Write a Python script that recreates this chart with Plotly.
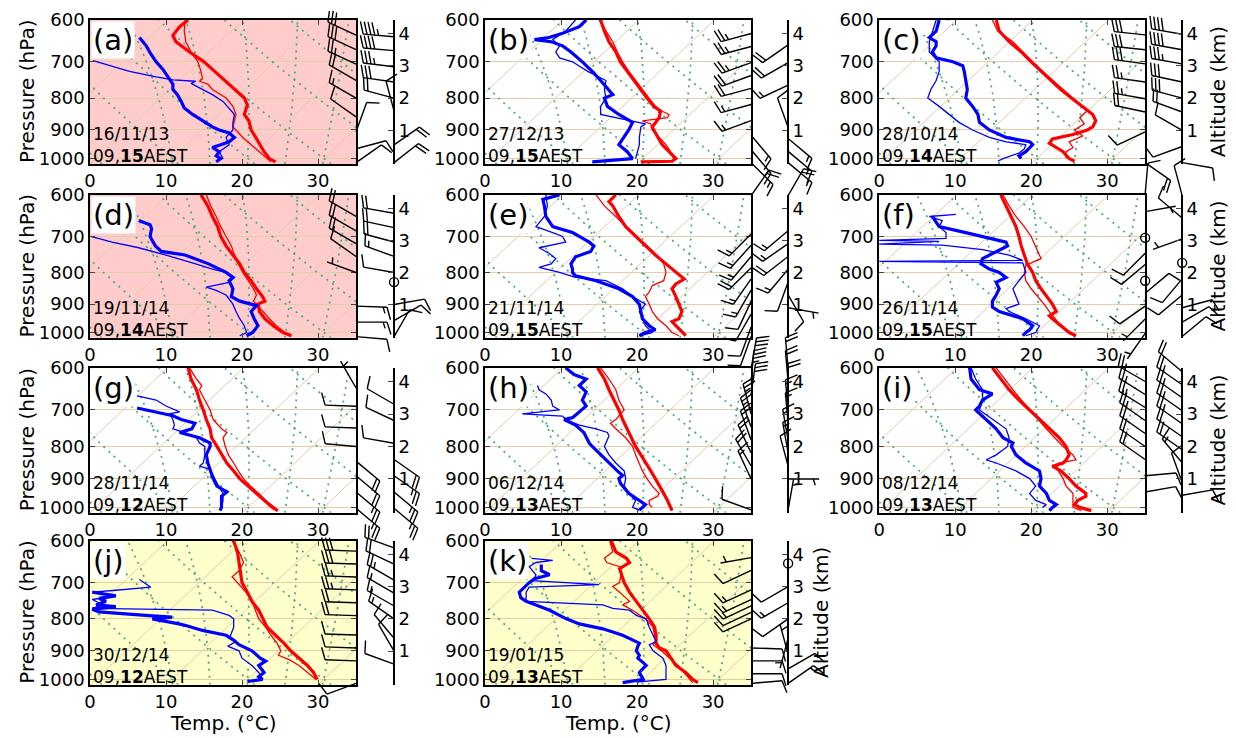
import numpy as np
import plotly.graph_objects as go

# ======================= DATA =======================
LABELS = ["(a)", "(b)", "(c)", "(d)", "(e)", "(f)", "(g)", "(h)", "(i)", "(j)", "(k)"]
DATES = ["16/11/13", "27/12/13", "28/10/14", "19/11/14", "21/11/14", "26/11/14",
         "28/11/14", "06/12/14", "08/12/14", "30/12/14", "19/01/15"]
HOURS = ["15", "15", "14", "14", "15", "15", "12", "13", "13", "12", "13"]
P_TICKS = [600, 700, 800, 900, 1000]
T_TICKS = [0, 10, 20, 30]
ALT_TICKS = [1, 2, 3, 4]

A_RED_THICK = [(600,12.9),(615,11.8),(635,10.9),(650,11.3),(675,13.1),(700,15.0),(725,16.4),(750,17.7),(775,19.0),(800,20.3),(820,20.7),(840,20.5),(850,20.3),(870,20.9),(900,21.2),(925,21.8),(950,22.3),(975,22.9),(1000,23.6),(1012,24.4)]
A_RED_THIN = [(600,12.5),(625,12.4),(650,12.6),(675,13.3),(700,14.2),(725,14.6),(745,14.8),(752,14.4),(760,15.5),(775,16.1),(800,17.9),(825,18.8),(850,19.2),(870,19.0),(890,18.8),(900,19.2),(925,20.1),(950,21.2),(975,22.3),(1000,23.4),(1012,23.8)]
A_BLUE_THICK = [(640,6.5),(660,7.4),(680,8.0),(700,8.7),(720,9.6),(740,10.2),(760,10.9),(775,10.9),(790,11.5),(810,12.0),(830,12.4),(850,13.5),(870,14.8),(890,16.1),(900,17.0),(910,18.3),(925,19.0),(940,18.3),(950,17.2),(960,16.1),(975,17.0),(990,16.6),(1000,17.2),(1012,16.6)]
A_BLUE_THIN = [(697,0.4),(710,2.5),(725,5.2),(740,8.7),(748,10.9),(752,13.9),(758,13.3),(765,13.9),(775,14.8),(790,16.1),(810,17.5),(830,18.3),(850,19.0),(875,18.8),(900,18.8),(925,17.9),(950,18.3),(975,17.0),(1000,17.5)]

B_RED_THICK = [(600,15.2),(625,15.7),(650,16.3),(675,17.2),(700,17.8),(725,18.7),(750,19.6),(775,20.5),(800,21.3),(825,22.2),(840,23.1),(860,22.9),(875,22.4),(890,22.0),(900,22.2),(925,22.7),(950,23.3),(975,24.2),(1000,25.1),(1010,24.6),(1012,20.5)]
B_RED_THIN = [(600,15.0),(625,15.9),(650,16.8),(675,17.4),(700,18.1),(725,18.9),(750,19.8),(775,20.7),(800,21.6),(825,22.4),(840,23.3),(850,24.2),(860,24.0),(870,20.7),(880,21.8),(900,22.0),(925,22.9),(950,23.8),(975,24.4),(1000,24.8)]
B_BLUE_THICK = [(600,13.3),(615,12.4),(630,10.2),(640,8.4),(645,6.5),(650,8.7),(660,10.2),(675,11.3),(700,12.8),(725,14.1),(750,15.2),(775,16.3),(790,16.8),(800,15.7),(825,16.1),(850,17.6),(875,19.4),(900,18.9),(925,18.3),(950,17.6),(975,18.7),(1000,19.4),(1012,14.1)]
B_BLUE_THIN = [(600,11.9),(625,10.6),(645,8.9),(660,9.8),(675,9.3),(690,9.8),(700,11.5),(725,13.5),(750,15.9),(775,15.7),(800,15.9),(825,15.2),(850,15.2),(870,19.4),(880,21.1),(890,20.5),(925,20.3),(950,20.3),(975,20.0),(1000,19.8)]

C_RED_THICK = [(600,15.4),(625,15.8),(650,17.1),(675,18.7),(700,20.0),(725,21.3),(750,22.6),(775,23.9),(800,25.3),(825,26.8),(850,28.1),(870,28.5),(890,28.1),(900,27.4),(915,25.5),(930,22.8),(945,22.4),(960,23.3),(975,24.2),(1000,25.0),(1010,25.7)]
C_RED_THIN = [(600,14.9),(625,15.6),(650,17.6),(675,18.9),(700,20.2),(725,21.5),(750,22.8),(775,24.2),(800,25.5),(825,26.8),(840,27.3),(860,26.4),(880,27.0),(900,25.7),(920,26.8),(940,25.0),(960,25.5),(975,24.6),(1000,24.6)]
C_BLUE_THICK = [(600,7.9),(625,7.5),(640,6.6),(650,7.5),(660,7.5),(675,7.0),(690,7.5),(700,9.7),(710,11.0),(725,11.2),(750,11.4),(775,11.6),(800,11.4),(825,12.3),(850,13.0),(875,13.2),(900,14.5),(925,16.7),(940,19.8),(950,20.2),(975,19.3),(990,18.4),(1000,18.7)]
C_BLUE_THIN = [(600,7.5),(625,7.0),(650,6.6),(675,6.6),(700,7.9),(725,7.9),(750,7.5),(775,6.8),(800,6.4),(825,7.9),(850,9.2),(875,10.5),(900,12.3),(925,14.5),(940,16.7),(950,19.3),(965,19.1),(980,18.4),(1000,16.3),(1010,15.6)]

D_RED_THICK = [(600,14.6),(625,15.5),(650,16.1),(675,16.8),(700,17.2),(725,17.9),(750,18.8),(775,19.7),(800,20.3),(825,21.2),(850,21.9),(875,22.7),(890,23.0),(900,22.1),(925,22.3),(950,23.0),(975,24.1),(1000,25.4),(1012,26.5)]
D_RED_THIN = [(600,15.3),(625,15.9),(650,16.6),(675,17.2),(700,17.9),(725,18.6),(750,19.0),(775,19.5),(800,20.1),(825,20.8),(850,21.5),(870,21.9),(890,21.5),(900,21.9),(925,22.7),(950,23.6),(975,24.5),(1000,25.6),(1012,26.2)]
D_BLUE_THICK = [(660,6.4),(670,7.9),(680,8.1),(700,7.9),(725,8.6),(740,9.4),(750,12.5),(775,15.6),(800,17.9),(815,18.8),(825,18.3),(850,18.8),(875,18.6),(890,19.7),(905,21.9),(925,21.2),(950,21.6),(975,22.1),(1000,21.4),(1012,20.6)]
D_BLUE_THIN = [(700,0.1),(715,2.9),(730,6.4),(750,10.0),(775,13.9),(790,16.1),(800,17.9),(815,19.0),(830,18.3),(845,15.3),(855,16.6),(870,17.9),(900,18.8),(925,19.2),(950,19.7),(975,20.3),(1000,20.6),(1012,19.7)]

E_RED_THICK = [(600,17.2),(615,16.3),(625,16.8),(650,17.6),(675,18.5),(700,19.8),(725,21.1),(750,22.4),(775,23.8),(800,25.1),(820,26.2),(835,25.1),(850,24.6),(875,25.1),(900,25.5),(925,25.9),(950,25.5),(960,24.6),(975,25.1),(1000,25.9),(1012,26.4)]
E_RED_THIN = [(600,14.6),(625,15.7),(650,17.2),(675,18.5),(700,20.0),(725,21.3),(750,22.6),(775,23.5),(800,23.8),(825,23.5),(840,22.0),(860,21.6),(875,21.1),(900,21.6),(925,22.0),(950,22.7),(975,23.8),(1000,24.6),(1012,25.5)]
E_BLUE_THICK = [(600,9.8),(610,7.6),(625,7.8),(650,8.0),(675,8.9),(690,11.5),(700,12.4),(715,13.7),(725,14.3),(740,13.9),(755,11.9),(775,11.3),(790,11.5),(800,11.5),(810,11.9),(825,14.6),(850,17.6),(875,19.4),(900,20.3),(925,20.5),(950,20.7),(975,21.6),(990,22.4),(1000,21.1),(1012,20.3)]
E_BLUE_THIN = [(600,8.0),(625,8.2),(650,7.8),(675,6.7),(690,8.9),(700,10.2),(715,10.6),(730,7.1),(745,8.4),(760,9.3),(775,8.7),(785,7.1),(800,9.8),(815,11.9),(825,15.9),(850,18.1),(875,19.4),(900,21.1),(925,20.3),(950,20.7),(975,21.1),(1000,22.0),(1012,20.3)]

F_RED_THICK = [(600,16.0),(625,16.7),(650,17.3),(675,18.0),(700,18.4),(725,18.7),(750,19.1),(775,19.5),(800,20.2),(825,20.6),(850,21.3),(875,22.0),(900,22.8),(925,23.3),(940,22.4),(950,22.8),(975,23.9),(1000,25.0),(1012,25.9)]
F_RED_THIN = [(600,16.3),(625,17.1),(650,18.0),(675,19.1),(700,20.0),(725,20.6),(750,21.1),(760,21.3),(770,20.2),(780,19.3),(800,19.1),(825,19.3),(850,20.0),(875,20.9),(900,21.7),(925,22.4),(950,23.1),(975,23.9),(1000,25.0),(1012,25.7)]
F_BLUE_THICK = [(650,7.0),(675,7.9),(690,11.4),(700,13.6),(715,16.7),(725,16.9),(740,15.4),(760,13.6),(775,13.4),(790,14.5),(800,15.8),(815,16.7),(830,15.4),(850,15.8),(870,15.4),(890,14.9),(910,14.9),(925,15.8),(950,18.9),(975,20.2),(990,19.8),(1000,19.3),(1012,18.9)]
F_BLUE_THIN = [(645,10.1),(650,6.6),(660,8.3),(675,7.9),(690,8.8),(705,8.8),(710,0.0),(713,7.9),(720,0.0),(723,8.3),(735,13.6),(750,17.1),(765,18.9),(768,0.0),(772,18.9),(790,19.1),(800,19.3),(825,18.4),(850,17.6),(875,18.0),(900,18.4),(915,16.7),(925,17.1),(950,19.3),(975,21.1),(1000,20.6),(1012,19.3)]

G_RED_THICK = [(600,12.9),(625,13.3),(650,14.0),(675,14.4),(700,14.9),(725,15.3),(750,15.8),(775,16.0),(800,16.7),(825,17.3),(850,18.0),(875,18.9),(900,19.7),(925,20.8),(950,21.9),(975,23.0),(1000,24.0),(1012,24.7)]
G_RED_THIN = [(600,13.1),(625,14.0),(640,14.7),(650,14.4),(675,15.1),(700,15.8),(725,16.2),(750,17.3),(760,18.0),(775,17.5),(800,17.8),(825,18.2),(850,18.9),(875,19.5),(900,20.2),(925,21.1),(950,22.2),(975,23.1),(1000,24.3),(1012,24.7)]
G_BLUE_THICK = [(695,6.2),(700,7.4),(715,10.9),(725,12.0),(735,13.8),(750,13.4),(760,11.8),(775,14.4),(790,15.8),(800,15.8),(825,15.3),(850,15.5),(875,15.8),(900,16.2),(925,16.7),(945,18.0),(960,17.3),(975,17.3),(1000,17.3),(1012,17.1)]
G_BLUE_THIN = [(665,6.2),(675,8.7),(690,10.0),(705,11.8),(710,10.5),(725,10.9),(740,11.1),(750,10.9),(760,12.4),(775,14.0),(790,14.4),(800,15.1),(825,15.1),(850,14.9),(860,14.4),(870,15.8),(900,16.4),(925,16.9),(950,17.5),(975,17.5),(1000,17.3)]

H_RED_THICK = [(600,14.8),(625,15.7),(650,16.3),(675,17.0),(700,17.6),(725,18.1),(750,18.7),(775,19.2),(800,19.8),(825,20.5),(850,21.1),(875,21.8),(900,22.4),(925,22.9),(950,23.5),(975,24.0),(1000,24.4),(1012,24.6)]
H_RED_THIN = [(600,15.2),(625,16.3),(650,17.2),(675,17.6),(700,18.3),(725,17.2),(735,16.5),(750,17.2),(775,18.5),(800,19.4),(825,19.8),(850,20.3),(875,20.7),(900,21.3),(925,22.0),(950,22.9),(960,22.7),(975,21.6),(990,21.6),(1000,22.0)]
H_BLUE_THICK = [(600,10.6),(615,11.7),(625,13.3),(640,12.4),(655,13.3),(675,12.8),(690,13.3),(705,12.4),(720,11.5),(725,10.4),(740,11.9),(760,13.0),(775,13.3),(790,13.7),(800,14.1),(825,15.2),(850,16.3),(875,17.4),(890,18.1),(900,17.6),(915,17.8),(925,18.1),(950,18.9),(975,20.3),(990,21.1),(1000,20.7),(1010,20.3)]
H_BLUE_THIN = [(640,6.9),(650,7.1),(660,8.0),(675,8.7),(690,8.9),(700,9.8),(710,4.9),(716,10.2),(725,10.6),(740,12.4),(750,14.6),(760,16.1),(770,16.3),(790,15.9),(800,15.7),(825,16.3),(850,17.2),(875,18.3),(900,18.5),(925,18.3),(950,18.9),(975,19.8),(1000,19.4),(1010,20.3)]

I_RED_THICK = [(600,14.9),(625,16.0),(650,17.1),(675,18.4),(700,19.8),(725,21.1),(750,22.4),(775,23.7),(800,24.6),(825,25.0),(840,24.6),(850,24.2),(860,22.8),(875,23.9),(900,25.0),(925,25.9),(950,27.2),(960,27.2),(975,26.1),(990,25.7),(1000,26.4),(1012,27.9)]
I_RED_THIN = [(600,15.4),(625,16.5),(650,17.6),(675,18.7),(700,19.8),(725,20.9),(750,22.0),(775,23.1),(800,24.2),(825,25.5),(840,25.9),(850,23.7),(865,23.3),(880,23.7),(900,24.2),(925,24.6),(950,25.5),(975,25.5),(1000,25.5),(1012,26.6)]
I_BLUE_THICK = [(600,11.9),(625,12.1),(650,13.2),(660,14.9),(675,13.6),(690,13.2),(700,12.7),(725,14.1),(750,15.4),(775,16.3),(790,17.6),(800,17.4),(825,18.0),(850,19.3),(875,21.1),(900,21.3),(925,21.1),(950,22.0),(975,22.4),(990,23.3),(1000,22.8),(1012,22.4)]
I_BLUE_THIN = [(600,12.1),(625,12.7),(650,13.6),(675,13.6),(700,13.2),(725,14.9),(750,16.7),(775,17.1),(800,16.9),(825,15.4),(840,14.1),(850,15.4),(875,18.0),(900,19.8),(925,20.6),(950,19.8),(975,20.6),(990,22.0),(1000,21.5)]

J_RED_THICK = [(600,18.9),(625,19.4),(650,19.6),(675,19.8),(700,20.0),(725,20.7),(750,21.3),(775,22.2),(800,22.7),(825,23.3),(850,24.4),(875,25.5),(900,26.4),(925,27.5),(950,28.6),(975,29.4),(1000,29.9)]
J_RED_THIN = [(600,18.7),(625,19.6),(650,20.2),(670,19.6),(685,18.7),(700,19.4),(725,20.5),(750,21.3),(775,21.8),(800,22.2),(825,23.1),(850,23.8),(875,24.6),(900,25.1),(915,24.8),(930,26.2),(950,27.5),(975,28.6),(1000,29.7)]
J_BLUE_THICK = [(725,0.3),(735,3.4),(742,1.2),(750,2.1),(760,0.8),(765,3.4),(772,0.3),(780,1.2),(790,7.3),(795,10.8),(800,8.2),(805,9.5),(815,11.7),(820,12.6),(835,14.8),(850,17.9),(865,18.9),(880,19.6),(900,21.3),(925,22.4),(935,23.1),(950,22.2),(975,22.9),(990,22.2),(1000,22.7),(1008,20.7)]
J_BLUE_THIN = [(692,6.5),(697,6.9),(712,8.0),(720,3.4),(725,0.3),(735,3.4),(745,0.3),(760,1.7),(770,0.3),(775,16.1),(790,18.3),(800,18.9),(825,18.9),(850,18.5),(860,18.3),(870,19.2),(885,18.1),(900,19.6),(925,20.0),(950,21.3),(975,22.2),(1000,22.7)]

K_RED_THICK = [(600,16.6),(625,17.2),(640,18.6),(650,19.0),(665,17.7),(675,17.9),(700,18.3),(725,19.0),(750,19.9),(775,20.7),(800,21.6),(825,22.3),(850,22.5),(875,22.5),(890,22.9),(900,23.8),(925,24.5),(950,25.1),(975,26.4),(1000,27.3),(1012,28.0)]
K_RED_THIN = [(600,16.4),(625,16.8),(640,15.7),(650,16.0),(660,17.7),(675,17.9),(700,17.7),(710,16.8),(725,17.7),(750,19.0),(760,18.1),(775,19.4),(800,21.1),(825,22.1),(850,22.3),(870,22.5),(880,22.1),(900,23.2),(925,24.3),(950,25.4),(975,26.2),(1000,26.9),(1012,27.3)]
K_BLUE_THICK = [(655,7.4),(670,7.4),(680,8.5),(690,6.5),(700,5.8),(715,5.0),(725,4.5),(740,4.7),(750,5.4),(760,6.7),(775,8.5),(790,9.8),(800,10.7),(815,12.4),(830,15.5),(850,18.1),(865,19.4),(875,20.3),(885,20.1),(900,19.9),(915,20.3),(925,20.1),(940,20.8),(950,21.2),(960,20.8),(975,20.3),(1000,20.8),(1012,18.1)]
K_BLUE_THIN = [(640,6.1),(645,8.9),(650,6.7),(660,5.8),(680,6.7),(695,6.3),(705,15.0),(712,5.8),(725,5.4),(750,5.4),(760,15.5),(770,16.8),(775,19.0),(790,19.9),(800,21.2),(825,21.6),(850,22.1),(870,22.5),(880,21.6),(900,22.1),(925,23.4),(950,23.8),(975,23.8),(1000,23.8),(1010,19.9)]

A_WIND_L = [(3.95,295,30),(3.5,295,30),(3.05,295,25),(2.55,300,20),(2.0,300,15),(1.42,305,10),(0.96,20,10),(0.43,75,10),(0.0,55,10)]
A_WIND_R = [(3.9,275,45),(3.47,275,40),(2.97,277,35),(2.5,278,30),(2.0,285,20),(1.6,345,10),(0.55,55,20),(0.0,52,20)]
B_WIND_L = [(4.0,255,25),(3.6,255,25),(3.1,250,25),(2.7,250,20),(2.3,255,20),(1.8,255,15),(1.3,250,15),(0.85,140,15),(0.4,140,15),(0.0,135,15)]
B_WIND_R = [(3.65,235,20),(3.1,240,20),(2.4,245,15),(1.1,340,10),(0.75,130,15),(0.35,130,15),(0.0,130,15)]
C_WIND_L = [(3.96,276,30),(3.5,276,30),(3.06,278,30),(2.5,278,25),(1.98,280,25),(1.57,282,20),(0.95,245,10),(0.0,125,20)]
C_WIND_R = [(3.98,280,40),(3.5,280,40),(3.06,280,35),(2.5,282,30),(2.0,285,30),(1.57,290,20),(1.0,300,10),(0.5,250,10),(0.0,100,10)]
D_WIND_L = [(3.75,300,20),(3.3,300,20),(2.9,300,20),(2.5,305,10),(2.0,290,5),(0.95,92,15),(0.45,90,15),(0.0,95,10)]
D_WIND_R = [(3.85,280,20),(3.4,282,20),(2.95,285,20),(2.5,290,15),(2.0,280,10),(1.7,0,0),(1.0,80,10),(0.5,60,10),(0.0,30,10)]
E_WIND_L = [(4.4,35,20),(3.2,225,15),(2.85,222,15),(2.5,220,15),(2.15,225,20),(1.8,215,15),(1.45,210,15),(1.1,205,10),(0.7,210,10),(0.3,200,10),(0.0,200,10)]
E_WIND_R = [(4.4,30,20),(3.3,230,15),(2.9,235,15),(2.5,232,20),(2.1,220,15),(1.7,200,10),(1.3,150,10),(0.9,100,5)]
F_WIND_L = [(4.45,5,10),(3.9,80,5),(3.08,0,0),(2.6,225,10),(2.25,230,10),(1.74,0,0),(1.35,50,10),(0.95,235,10),(0.55,225,5),(0.1,215,5)]
F_WIND_R = [(4.4,345,10),(3.7,310,10),(3.05,250,5),(2.3,0,0),(1.8,220,10),(1.3,230,10),(0.9,75,10),(0.45,60,10),(0.0,50,10)]
G_WIND_L = [(3.8,330,5),(3.24,272,10),(2.57,272,10),(2.0,275,10),(1.55,130,20),(1.1,130,20),(0.6,130,25),(0.1,130,25)]
G_WIND_R = [(3.3,300,10),(2.8,295,10),(2.1,280,10),(1.6,125,20),(1.1,125,25),(0.6,130,25),(0.1,130,25)]
H_WIND_L = [(4.4,10,30),(4.0,5,35),(3.6,8,30),(3.0,345,25),(2.6,340,25),(2.2,340,20),(1.8,335,20),(1.4,330,20),(1.0,335,15),(0.05,290,10)]
H_WIND_R = [(4.4,355,20),(4.0,355,20),(3.6,0,20),(3.1,355,15),(2.7,355,15),(2.2,350,15),(1.8,350,15),(1.4,345,10),(1.0,90,5),(0.05,10,5)]
I_WIND_L = [(4.0,300,25),(3.6,302,25),(3.2,302,25),(2.8,305,25),(2.4,305,20),(2.0,305,20),(1.6,305,20),(1.1,85,10),(0.6,80,10)]
I_WIND_R = [(4.3,310,20),(3.9,305,25),(3.5,305,25),(3.1,305,25),(2.7,305,25),(2.3,305,20),(1.9,305,20),(1.5,320,15),(0.9,340,10),(0.5,80,10)]
J_WIND_L = [(4.1,272,30),(3.7,272,30),(3.3,272,25),(2.9,272,25),(2.5,272,20),(2.1,272,20),(1.5,272,10),(1.1,272,10),(0.7,272,10),(0.0,250,10)]
J_WIND_R = [(4.2,290,20),(3.7,295,20),(3.2,300,25),(2.8,300,15),(2.4,300,15),(2.0,305,15),(1.4,320,10),(1.0,330,10),(0.6,290,10)]
K_WIND_L = [(3.9,260,5),(3.5,245,10),(2.9,245,15),(2.6,245,15),(2.4,245,15),(2.2,245,10),(2.0,245,10),(1.1,92,10),(0.7,90,10),(0.3,90,10),(0.0,85,10)]
K_WIND_R = [(3.72,0,0),(3.0,240,10),(2.5,240,15),(2.0,235,10),(1.4,195,5),(0.9,345,5),(0.45,60,10),(0.0,55,15)]

PANELS = [
    (A_RED_THICK, A_RED_THIN, A_BLUE_THICK, A_BLUE_THIN, A_WIND_L, A_WIND_R),
    (B_RED_THICK, B_RED_THIN, B_BLUE_THICK, B_BLUE_THIN, B_WIND_L, B_WIND_R),
    (C_RED_THICK, C_RED_THIN, C_BLUE_THICK, C_BLUE_THIN, C_WIND_L, C_WIND_R),
    (D_RED_THICK, D_RED_THIN, D_BLUE_THICK, D_BLUE_THIN, D_WIND_L, D_WIND_R),
    (E_RED_THICK, E_RED_THIN, E_BLUE_THICK, E_BLUE_THIN, E_WIND_L, E_WIND_R),
    (F_RED_THICK, F_RED_THIN, F_BLUE_THICK, F_BLUE_THIN, F_WIND_L, F_WIND_R),
    (G_RED_THICK, G_RED_THIN, G_BLUE_THICK, G_BLUE_THIN, G_WIND_L, G_WIND_R),
    (H_RED_THICK, H_RED_THIN, H_BLUE_THICK, H_BLUE_THIN, H_WIND_L, H_WIND_R),
    (I_RED_THICK, I_RED_THIN, I_BLUE_THICK, I_BLUE_THIN, I_WIND_L, I_WIND_R),
    (J_RED_THICK, J_RED_THIN, J_BLUE_THICK, J_BLUE_THIN, J_WIND_L, J_WIND_R),
    (K_RED_THICK, K_RED_THIN, K_BLUE_THICK, K_BLUE_THIN, K_WIND_L, K_WIND_R),
]

# ======================= LAYOUT / STYLE =======================
# Target positions are given in pixels of the final 1236x738 picture; the page shows the
# figure slightly offset and scaled, which OX/SX and OY/SY compensate.
FW, FH = 1236, 748
OX, SX = 7.0, 0.995
OY, SY = 9.0, 0.979
COL_X = [(91, 357), (486, 752), (880, 1146)]
SPINE_X = [395, 789, 1183]
ROW_Y = [(18, 162), (193, 336), (366, 511), (539, 683)]
SHADE = {0: "rgb(255,204,204)", 3: "rgb(255,204,204)", 9: "rgb(255,255,204)", 10: "rgb(255,255,204)"}
ALT_PANELS = {2: 1219, 5: 1219, 8: 1219, 10: 822}
P_BOT, P_TOP = 1020.0, 600.0
ALT0, ALT1 = -0.04, 4.42
SKEW = 35.0 * np.tan(np.radians(30))
FONT = "DejaVu Sans"
RED, BLUE = "rgb(255,0,0)", "rgb(0,0,255)"
TAN = "rgb(226,204,170)"
DOTC = "rgb(70,170,130)"
BARB_L = 31.0
TICK_FONT = 18
X_MAX = OX + SX * FW
Y_MIN = OY


def px(x):
    return ((x - OX) / SX) / FW


def py(y):
    return 1 - ((y - OY) / SY) / FH


def ya(p):
    p = np.asarray(p, dtype=float)
    return (np.log10(P_BOT) - np.log10(p)) / (np.log10(P_BOT) - np.log10(P_TOP))


def es_hpa(tc):
    return 6.112 * np.exp(17.67 * tc / (tc + 243.5))


def moist_rate(T, p):
    Rd, Cp, Lv, eps = 287.04, 1005.7, 2.501e6, 0.622
    e = es_hpa(T - 273.15)
    rs = eps * e / (p - e)
    return (Rd * T + Lv * rs) / (Cp + Lv * Lv * rs * eps / (Rd * T * T)) / p


def moist_profile(t0c, plev):
    out = []
    for pt in plev:
        n = 60
        T = t0c + 273.15
        p = 1000.0
        h = (pt - 1000.0) / n
        for _ in range(n):
            k1 = moist_rate(T, p)
            k2 = moist_rate(T + 0.5 * h * k1, p + 0.5 * h)
            k3 = moist_rate(T + 0.5 * h * k2, p + 0.5 * h)
            k4 = moist_rate(T + h * k3, p + h)
            T += h * (k1 + 2 * k2 + 2 * k3 + k4) / 6
            p += h
        out.append(T - 273.15)
    return np.array(out)


PLEV = np.linspace(P_BOT, P_TOP, 41)
iso_x, iso_y = [], []
for t0 in range(-60, 60, 10):
    iso_x += [t0 + SKEW * ya(P_BOT), t0 + SKEW * ya(P_TOP), None]
    iso_y += [P_BOT, P_TOP, None]
dry_x, dry_y = [], []
for th in range(-20, 80, 10):
    tt = (th + 273.15) * (PLEV / 1000.0) ** 0.2857 - 273.15
    dry_x += list(tt + SKEW * ya(PLEV)) + [None]
    dry_y += list(PLEV) + [None]
moist_x, moist_y = [], []
for t0 in [10, 15, 20, 25, 30]:
    tt = moist_profile(t0, PLEV)
    moist_x += list(tt + SKEW * ya(PLEV)) + [None]
    moist_y += list(PLEV) + [None]


def barb_geom(xbase, alt, direction, speed, pxkm):
    th = np.radians(direction)
    d = np.array([np.sin(th), np.cos(th)])
    n = np.array([d[1], -d[0]])
    L = BARB_L
    h, w, sp = 0.4 * L, 0.25 * L, 0.125 * L
    spd = int(5 * round(speed / 5.0))
    n50, rem = divmod(spd, 50)
    n10, rem = divmod(rem, 10)
    half = rem >= 5
    segs = [[np.zeros(2), L * d]]
    off = L
    for _ in range(n50):
        a = off * d
        segs.append([a, a + h * n - (w / 2) * d, a - w * d, a])
        off -= w + sp
    for _ in range(n10):
        a = off * d
        segs.append([a, a + h * n + (w / 2) * d])
        off -= sp
    if half:
        if off == L:
            off -= 1.5 * sp
        a = off * d
        segs.append([a, a + 0.5 * h * n + (w / 4) * d])
    xs, ys = [], []
    for seg in segs:
        for v in seg:
            xs.append(xbase + v[0])
            ys.append(alt + v[1] / pxkm)
        xs.append(None)
        ys.append(None)
    return xs, ys


fig = go.Figure()
layout = dict(width=FW, height=FH, margin=dict(l=0, r=0, t=0, b=0),
              paper_bgcolor="white", plot_bgcolor="rgba(0,0,0,0)",
              showlegend=False, font=dict(family=FONT, color="black"))
annotations, shapes = [], []
NP = len(PANELS)

for i, (rth, rtn, bth, btn, wl, wr) in enumerate(PANELS):
    r, c = divmod(i, 3)
    x0, x1 = COL_X[c]
    ytop, ybot = ROW_Y[r]
    sp_x = SPINE_X[c]
    k = i + 1
    kb = i + 1 + NP
    ks = i + 1 + 2 * NP
    xa, yaa = f"x{k}", f"y{k}"
    xb, yb = f"x{kb}", f"y{kb}"
    ysn = f"y{ks}"

    if i in SHADE:
        shapes.append(dict(type="rect", xref="paper", yref="paper", layer="below",
                           x0=px(x0), x1=px(x1), y0=py(ybot), y1=py(ytop),
                           fillcolor=SHADE[i], line=dict(width=0)))

    fig.add_trace(go.Scatter(x=iso_x, y=iso_y, mode="lines", xaxis=xa, yaxis=yaa,
                             line=dict(color=TAN, width=1), hoverinfo="skip"))
    fig.add_trace(go.Scatter(x=dry_x, y=dry_y, mode="lines", xaxis=xa, yaxis=yaa,
                             line=dict(color=DOTC, width=1.7, dash="2px,5px"), hoverinfo="skip"))
    fig.add_trace(go.Scatter(x=moist_x, y=moist_y, mode="lines", xaxis=xa, yaxis=yaa,
                             line=dict(color=DOTC, width=1.7, dash="2px,5px"), hoverinfo="skip"))

    for prof, col, wd in [(rtn, RED, 1.3), (rth, RED, 3.2), (btn, BLUE, 1.3), (bth, BLUE, 3.2)]:
        fig.add_trace(go.Scatter(x=[t for _, t in prof], y=[p for p, _ in prof], mode="lines",
                                 xaxis=xa, yaxis=yaa, line=dict(color=col, width=wd)))

    dom_x = [px(x0), px(x1)]
    dom_y = [py(ybot), py(ytop)]
    layout[f"xaxis{k}"] = dict(domain=dom_x, anchor=yaa, range=[0, 35], tickvals=T_TICKS,
                               ticks="inside", ticklen=5, tickwidth=1, showgrid=False, zeroline=False,
                               showline=True, linecolor="black", linewidth=1.5, mirror="ticks",
                               tickfont=dict(size=TICK_FONT))
    layout[f"yaxis{k}"] = dict(domain=dom_y, anchor=xa, type="log",
                               range=[np.log10(P_BOT), np.log10(P_TOP)],
                               tickvals=P_TICKS, ticktext=[str(v) for v in P_TICKS],
                               ticks="inside", ticklen=5, showgrid=True, gridcolor=TAN, gridwidth=1,
                               zeroline=False, showline=True, linecolor="black", linewidth=1.5,
                               mirror="ticks", tickfont=dict(size=TICK_FONT))

    pxkm = (ybot - ytop) / (ALT1 - ALT0)
    bx0 = max(OX, x1 - 60)
    bx1 = min(X_MAX, sp_x + 60)
    by0 = max(Y_MIN, ytop - 45)
    by1 = ybot + 45
    layout[f"xaxis{kb}"] = dict(domain=[px(bx0), px(bx1)], anchor=yb, range=[bx0 - x1, bx1 - x1],
                                visible=False)
    layout[f"yaxis{kb}"] = dict(domain=[max(0.0, py(by1)), py(by0)], anchor=xb,
                                range=[ALT0 - (by1 - ybot) / pxkm, ALT1 + (ytop - by0) / pxkm],
                                visible=False)
    layout[f"yaxis{ks}"] = dict(domain=dom_y, anchor="free", position=px(sp_x), side="right",
                                range=[ALT0, ALT1], tickvals=ALT_TICKS, ticks="inside", ticklen=5,
                                showgrid=False, zeroline=False, showline=True, linecolor="black",
                                linewidth=1.5, tickfont=dict(size=TICK_FONT))
    fig.add_trace(go.Scatter(x=[None], y=[None], xaxis=xb, yaxis=ysn, mode="markers"))

    bxs, bys, cx, cy = [], [], [], []
    for col_base, wind in [(0.0, wl), (float(sp_x - x1), wr)]:
        for alt, dr, spd in wind:
            if spd < 2.5:
                cx.append(col_base)
                cy.append(alt)
                continue
            gx, gy = barb_geom(col_base, alt, dr, spd, pxkm)
            bxs += gx
            bys += gy
    fig.add_trace(go.Scatter(x=bxs, y=bys, mode="lines", xaxis=xb, yaxis=yb,
                             line=dict(color="black", width=1.4), hoverinfo="skip"))
    if cx:
        fig.add_trace(go.Scatter(x=cx, y=cy, mode="markers", xaxis=xb, yaxis=yb, cliponaxis=False,
                                 marker=dict(symbol="circle-open", size=9, color="black",
                                             line=dict(color="black", width=1.4))))

    annotations.append(dict(xref="paper", yref="paper", x=px(x0 + 1), y=py(ytop + 1),
                            xanchor="left", yanchor="top", text=LABELS[i], showarrow=False,
                            font=dict(size=29), bgcolor="white", borderpad=1))
    annotations.append(dict(xref="paper", yref="paper", x=px(x0 + 1), y=py(ybot + 4),
                            xanchor="left", yanchor="bottom", align="left", showarrow=False,
                            text=f"{DATES[i]}<br>09,<b>{HOURS[i]}</b>AEST", font=dict(size=17)))
    if c == 0:
        annotations.append(dict(xref="paper", yref="paper", x=px(28), y=py((ytop + ybot) / 2),
                                xanchor="center", yanchor="middle",
                                text="Pressure (hPa)", textangle=-90, showarrow=False,
                                font=dict(size=20)))
    if i in ALT_PANELS:
        annotations.append(dict(xref="paper", yref="paper", x=px(ALT_PANELS[i]),
                                y=py((ytop + ybot) / 2), xanchor="center", yanchor="middle",
                                text="Altitude (km)", textangle=-90,
                                showarrow=False, font=dict(size=20)))
    if r == 3:
        annotations.append(dict(xref="paper", yref="paper", x=px((x0 + x1) / 2), y=py(721),
                                xanchor="center", yanchor="middle",
                                text="Temp. (°C)", showarrow=False, font=dict(size=20)))

layout["annotations"] = annotations
layout["shapes"] = shapes
fig.update_layout(**layout)
fig.write_html("out.html")
